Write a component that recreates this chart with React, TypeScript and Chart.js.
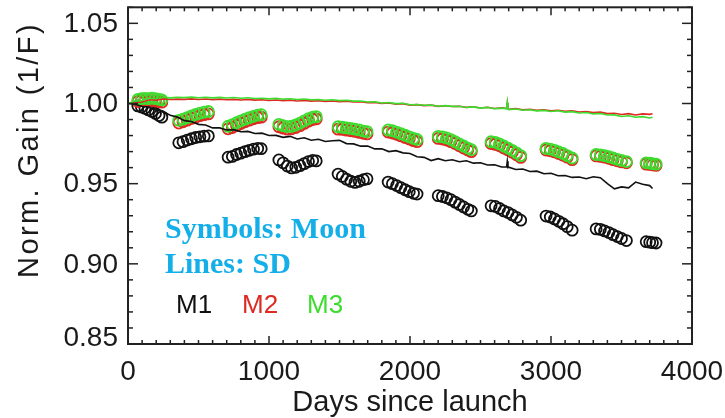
import React, { useEffect, useRef } from "react";
import { Chart, registerables } from "chart.js";

Chart.register(...registerables);

// ---------- data ----------
const X_TICKS = [0, 1000, 2000, 3000, 4000];
const X_TICK_LABELS = ["0", "1000", "2000", "3000", "4000"];
const Y_TICKS = [0.85, 0.9, 0.95, 1.0, 1.05];
const Y_TICK_LABELS = ["0.85", "0.90", "0.95", "1.00", "1.05"];
const X_TITLE = "Days since launch";
const Y_TITLE = "Norm. Gain (1/F)";
const NOTE_1 = "Symbols: Moon";
const NOTE_2 = "Lines: SD";
const SERIES_NAMES = ["M1", "M2", "M3"];

// Moon observation days (shared by M1, M2, M3)
const MOON_DAYS = [
  70, 95, 120, 145, 170, 195, 220, 240,
  360, 390, 420, 450, 480, 510, 540, 570,
  710, 740, 770, 800, 830, 860, 890, 920, 945,
  1070, 1100, 1130, 1160, 1190, 1220, 1250, 1280, 1310, 1335,
  1490, 1520, 1550, 1580, 1610, 1640, 1670, 1695,
  1845, 1875, 1905, 1935, 1965, 1995, 2025, 2050,
  2200, 2230, 2260, 2290, 2320, 2350, 2380, 2410, 2435,
  2575, 2605, 2635, 2665, 2695, 2725, 2755, 2785,
  2965, 2995, 3025, 3055, 3085, 3115, 3150,
  3320, 3350, 3380, 3410, 3440, 3470, 3500, 3535,
  3675, 3700, 3720, 3745,
];

const M1_MOON = [
  0.9985, 0.9978, 0.997, 0.996, 0.995, 0.9938, 0.9925, 0.9915,
  0.9755, 0.9762, 0.9772, 0.978, 0.9788, 0.9792, 0.9796, 0.9798,
  0.9665, 0.967, 0.9682, 0.969, 0.97, 0.9708, 0.9715, 0.972, 0.9718,
  0.9648, 0.963, 0.961, 0.9598, 0.9602, 0.9612, 0.9625, 0.9638, 0.9645, 0.9642,
  0.956, 0.9545, 0.9528, 0.9515, 0.9508, 0.9515, 0.9525, 0.953,
  0.951, 0.95, 0.9488, 0.9475, 0.9462, 0.945, 0.944, 0.9435,
  0.9425, 0.942, 0.9412, 0.94, 0.9385, 0.937, 0.9355, 0.934, 0.933,
  0.9362, 0.9358, 0.9345, 0.933, 0.932, 0.9305, 0.929, 0.9272,
  0.9298, 0.9292, 0.928, 0.9265, 0.925, 0.9232, 0.921,
  0.9218, 0.9215, 0.9205, 0.9195, 0.9182, 0.917, 0.9158, 0.9145,
  0.9138, 0.9135, 0.9132, 0.913,
];

const M2_MOON = [
  1.0012, 1.0018, 1.002, 1.0016, 1.002, 1.0015, 1.0012, 1.0008,
  0.9878, 0.9886, 0.9896, 0.9906, 0.9915, 0.9924, 0.993, 0.9935,
  0.9842, 0.985, 0.9862, 0.9875, 0.9886, 0.9896, 0.9905, 0.9912, 0.9915,
  0.9855, 0.9846, 0.984, 0.9842, 0.985, 0.9862, 0.9876, 0.989, 0.99, 0.9904,
  0.984, 0.9838, 0.9834, 0.983, 0.9826, 0.982, 0.9814, 0.981,
  0.9822, 0.9816, 0.9808, 0.9798, 0.9788, 0.9778, 0.9768, 0.9762,
  0.9782, 0.9778, 0.9772, 0.9762, 0.975, 0.9736, 0.9722, 0.971, 0.97,
  0.975, 0.9745, 0.9736, 0.9722, 0.971, 0.9696, 0.968, 0.9664,
  0.971, 0.9705, 0.9698, 0.9688, 0.9678, 0.9665, 0.965,
  0.9673, 0.967, 0.9665, 0.9658, 0.965, 0.9643, 0.9636, 0.963,
  0.9622, 0.962, 0.9617, 0.9614,
];

const M3_MOON = [
  1.0025, 1.003, 1.0032, 1.003, 1.0034, 1.003, 1.0026, 1.0022,
  0.9895, 0.9902, 0.9912, 0.9922, 0.9932, 0.994, 0.9946, 0.995,
  0.9858, 0.9868, 0.988, 0.9892, 0.9902, 0.9912, 0.992, 0.9928, 0.993,
  0.987, 0.9862, 0.9856, 0.9858, 0.9866, 0.9878, 0.9892, 0.9905, 0.9915, 0.9918,
  0.9855, 0.9852, 0.9848, 0.9845, 0.984, 0.9835, 0.9828, 0.9825,
  0.9835, 0.983, 0.9822, 0.9812, 0.9802, 0.9792, 0.9782, 0.9776,
  0.9795, 0.9792, 0.9785, 0.9775, 0.9762, 0.9748, 0.9735, 0.9722, 0.9712,
  0.9762, 0.9758, 0.9748, 0.9735, 0.9722, 0.9708, 0.9692, 0.9675,
  0.972, 0.9716, 0.9708, 0.9698, 0.9688, 0.9675, 0.966,
  0.9682, 0.968, 0.9675, 0.9668, 0.966, 0.9652, 0.9645, 0.9638,
  0.963, 0.9628, 0.9625, 0.9622,
];

// Solar diffuser (SD) trend days (shared by M1, M2, M3)
const SD_DAYS = [
  0, 50, 100, 150, 200, 250, 300, 350, 400, 450, 500, 550, 600, 650, 700, 750,
  800, 850, 900, 950, 1000, 1050, 1100, 1150, 1200, 1250, 1300, 1350, 1400,
  1450, 1500, 1550, 1600, 1650, 1700, 1750, 1800, 1850, 1900, 1950, 2000, 2050,
  2100, 2150, 2200, 2250, 2300, 2350, 2400, 2450, 2500, 2550, 2600, 2650, 2685,
  2690, 2695, 2700, 2750, 2800, 2850, 2900, 2950, 3000, 3050, 3100, 3150, 3200,
  3250, 3300, 3350, 3400, 3450, 3500, 3550, 3600, 3650, 3700, 3720,
];

const M1_SD = [
  1.0, 0.9995, 0.9981, 0.9978, 0.9958, 0.9952, 0.9926, 0.9915, 0.9893, 0.9888,
  0.987, 0.9866, 0.9848, 0.9848, 0.9835, 0.9837, 0.9824, 0.9826, 0.9813, 0.9815,
  0.98, 0.9801, 0.9789, 0.9795, 0.9779, 0.9786, 0.9771, 0.9777, 0.9763, 0.9768,
  0.977, 0.975, 0.9748, 0.9734, 0.9735, 0.9717, 0.9718, 0.97, 0.9706, 0.9692,
  0.9688, 0.9668, 0.9664, 0.9644, 0.9656, 0.9643, 0.9649, 0.9637, 0.9643, 0.9628,
  0.963, 0.9616, 0.9618, 0.9604, 0.9604, 0.964, 0.9601, 0.9603, 0.9588, 0.9591,
  0.9576, 0.9578, 0.9562, 0.9565, 0.9549, 0.9551, 0.9539, 0.9542, 0.9531, 0.9543,
  0.9537, 0.95, 0.9468, 0.948, 0.9474, 0.951, 0.9496, 0.9488, 0.947,
];

const M2_SD = [
  1.0, 1.0008, 1.0009, 1.0023, 1.0021, 1.0029, 1.0025, 1.0027, 1.0026, 1.0029,
  1.0025, 1.0028, 1.0024, 1.0027, 1.0023, 1.0026, 1.0022, 1.0025, 1.0021, 1.0023,
  1.0019, 1.0022, 1.0018, 1.0021, 1.0016, 1.0019, 1.0015, 1.0017, 1.0013, 1.0016,
  1.0011, 1.0014, 1.0009, 1.0011, 1.0005, 1.0007, 1.0, 1.0003, 0.9996, 0.9999,
  0.999, 0.9993, 0.9987, 0.999, 0.9982, 0.9986, 0.9981, 0.9983, 0.9976, 0.998,
  0.9972, 0.9977, 0.9969, 0.9973, 0.9969, 1.0003, 0.9968, 0.9964, 0.9968, 0.9961,
  0.9964, 0.9957, 0.9961, 0.9954, 0.9958, 0.9951, 0.9954, 0.9947, 0.995, 0.9943,
  0.9946, 0.9937, 0.9939, 0.9931, 0.9937, 0.9928, 0.9935, 0.9932, 0.9936,
];

const M3_SD = [
  1.0, 1.0015, 1.0019, 1.0033, 1.0031, 1.0039, 1.0035, 1.0038, 1.0037, 1.004,
  1.0036, 1.0039, 1.0035, 1.0038, 1.0034, 1.0037, 1.0033, 1.0036, 1.0031, 1.0033,
  1.0029, 1.0032, 1.0027, 1.003, 1.0025, 1.0028, 1.0023, 1.0025, 1.002, 1.0023,
  1.0018, 1.002, 1.0015, 1.0016, 1.0009, 1.0011, 1.0003, 1.0006, 0.9999, 1.0001,
  0.9992, 0.9994, 0.9989, 0.9991, 0.9983, 0.9987, 0.9982, 0.9983, 0.9975, 0.9979,
  0.9971, 0.9976, 0.9967, 0.9971, 0.9967, 1.0007, 0.9966, 0.9962, 0.9966, 0.9958,
  0.9961, 0.9954, 0.9957, 0.995, 0.9955, 0.9946, 0.9949, 0.9941, 0.9944, 0.9935,
  0.9938, 0.9928, 0.9929, 0.9919, 0.9924, 0.9914, 0.9918, 0.991, 0.9914,
];

// ---------- styling ----------
const BLACK = "#111111";
const RED = "#dd2a22";
const GREEN = "#3ddc2e";
const BLUE = "#14aee8";
const AXIS = "#222222";
const SANS = "'Liberation Sans', Arial, Helvetica, sans-serif";
const SERIF = "'Liberation Serif', 'Times New Roman', serif";

const toXY = (xs: number[], ys: number[]) => xs.map((x, i) => ({ x, y: ys[i] }));

const framePlugin = {
  id: "idlFrame",
  afterDraw(chart: any) {
    const { ctx, chartArea: a, scales } = chart;
    const xs = scales.x;
    const ys = scales.y;
    ctx.save();

    // ticks
    ctx.strokeStyle = AXIS;
    ctx.lineWidth = 1.5;
    const seg = (x1: number, y1: number, x2: number, y2: number) => {
      ctx.beginPath();
      ctx.moveTo(x1, y1);
      ctx.lineTo(x2, y2);
      ctx.stroke();
    };
    for (let i = 0; i <= 40; i++) {
      const v = i * 100;
      const px = xs.getPixelForValue(v);
      const len = i % 10 === 0 ? 8 : 4;
      seg(px, a.bottom, px, a.bottom - len);
      seg(px, a.top, px, a.top + len);
    }
    for (let i = 0; i <= 21; i++) {
      const v = 0.85 + i * 0.01;
      const py = ys.getPixelForValue(v);
      if (py < a.top - 0.5) continue;
      const len = i % 5 === 0 ? 10 : 5;
      seg(a.left, py, a.left + len, py);
      seg(a.right, py, a.right - len, py);
    }

    // frame
    ctx.lineWidth = 2;
    ctx.strokeRect(a.left, a.top, a.right - a.left, a.bottom - a.top);

    // tick labels
    ctx.fillStyle = "#1a1a1a";
    ctx.font = `28px ${SANS}`;
    ctx.textAlign = "right";
    ctx.textBaseline = "middle";
    Y_TICKS.forEach((v, i) => {
      let py = ys.getPixelForValue(v);
      if (py > a.bottom - 7) py = a.bottom - 7;
      ctx.fillText(Y_TICK_LABELS[i], a.left - 10, py + 1);
    });
    ctx.textAlign = "center";
    ctx.textBaseline = "alphabetic";
    X_TICKS.forEach((v, i) => {
      const px = xs.getPixelForValue(v);
      ctx.fillText(X_TICK_LABELS[i], px, a.bottom + 36);
    });

    // axis titles
    ctx.font = `29px ${SANS}`;
    ctx.fillText(X_TITLE, (a.left + a.right) / 2, 411);
    ctx.save();
    ctx.translate(38, 150);
    ctx.rotate(-Math.PI / 2);
    try {
      (ctx as any).letterSpacing = "2.4px";
    } catch (e) {}
    ctx.fillText(Y_TITLE, 0, 0);
    ctx.restore();

    // annotations
    ctx.textAlign = "left";
    ctx.fillStyle = BLUE;
    ctx.font = `bold 30px ${SERIF}`;
    ctx.fillText(NOTE_1, 165, 238);
    ctx.fillText(NOTE_2, 165, 273);

    ctx.font = `26px ${SANS}`;
    const colors = [BLACK, RED, GREEN];
    const xPos = [176, 242, 307];
    SERIES_NAMES.forEach((n, i) => {
      ctx.fillStyle = colors[i];
      ctx.fillText(n, xPos[i], 313);
    });

    ctx.restore();
  },
};

export default function App() {
  const ref = useRef<HTMLCanvasElement | null>(null);

  useEffect(() => {
    if (!ref.current) return;
    const circle = (data: number[], color: string, order: number) => ({
      data: toXY(MOON_DAYS, data),
      showLine: false,
      pointStyle: "circle",
      pointRadius: 5.5,
      pointBorderWidth: 1.8,
      pointBorderColor: color,
      pointBackgroundColor: "rgba(0,0,0,0)",
      borderColor: color,
      backgroundColor: "rgba(0,0,0,0)",
      order,
    });
    const line = (data: number[], color: string, order: number) => ({
      data: toXY(SD_DAYS, data),
      showLine: true,
      pointRadius: 0,
      borderWidth: 1.6,
      borderColor: color,
      backgroundColor: color,
      tension: 0,
      order,
    });
    const chart = new Chart(ref.current, {
      type: "scatter",
      data: {
        datasets: [
          line(M3_SD, GREEN, 0),
          line(M2_SD, RED, 1),
          line(M1_SD, BLACK, 2),
          circle(M3_MOON, GREEN, 3),
          circle(M2_MOON, RED, 4),
          circle(M1_MOON, BLACK, 5),
        ] as any,
      },
      options: {
        responsive: false,
        animation: false,
        devicePixelRatio: 1,
        layout: { padding: { left: 128, right: 33, top: 5, bottom: 74 } },
        plugins: { legend: { display: false }, tooltip: { enabled: false } },
        scales: {
          x: { type: "linear", min: 0, max: 4000, display: false },
          y: { type: "linear", min: 0.85, max: 1.06, display: false },
        },
      },
      plugins: [framePlugin],
    });
    return () => chart.destroy();
  }, []);

  return (
    <div style={{ position: "absolute", left: 0, top: 0, width: 725, height: 418, background: "#fff" }}>
      <canvas ref={ref} width={725} height={418} style={{ display: "block" }} />
    </div>
  );
}
